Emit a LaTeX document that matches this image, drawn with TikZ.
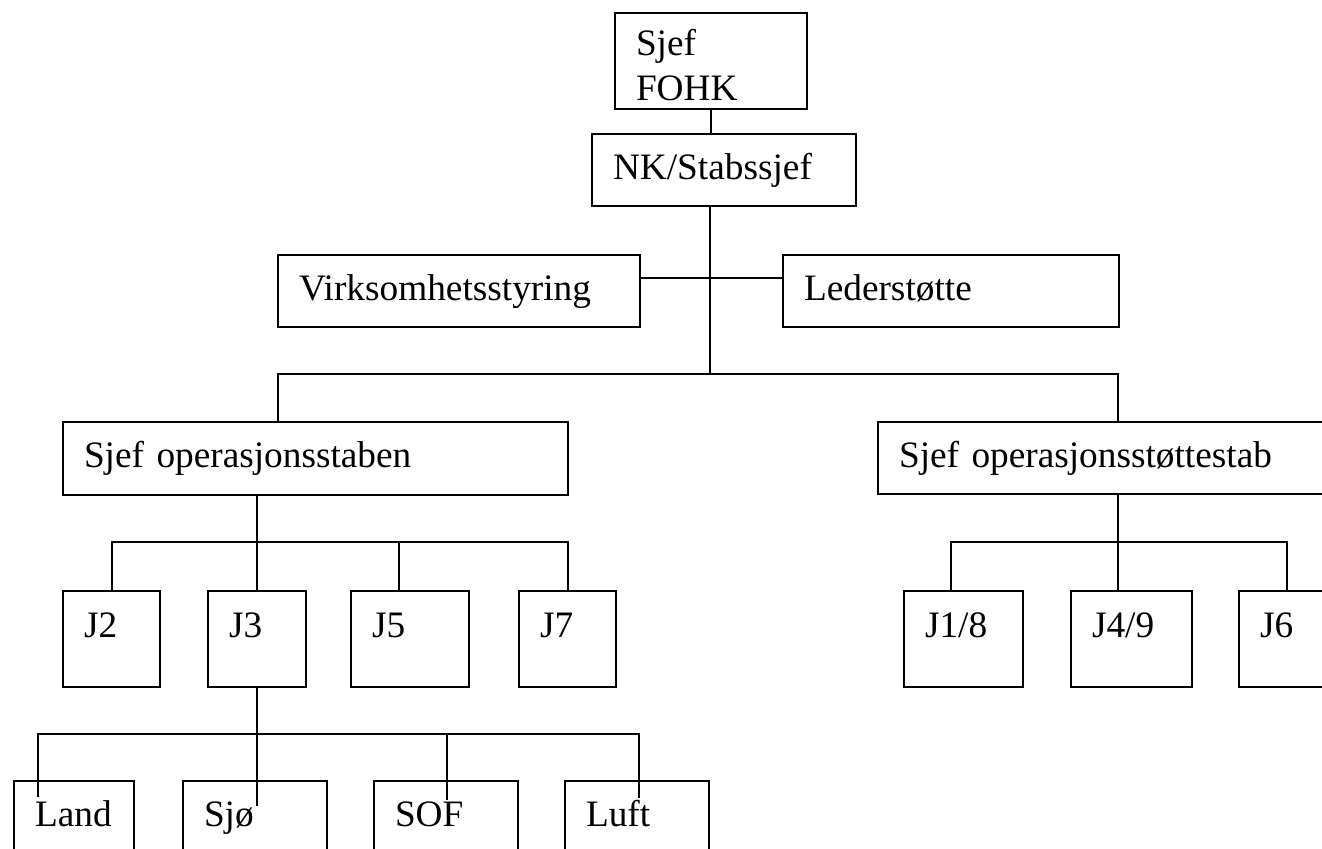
\documentclass[tikz,border=0pt]{standalone}
\usepackage{fontspec}
\setmainfont{Liberation Serif}
\usepackage{tikz}

\begin{document}
\begin{tikzpicture}[x=0.5pt, y=-0.5pt, line width=1pt,
    unit/.style={draw, rectangle, anchor=north west, align=left,
      inner xsep=10.5pt, inner ysep=0pt, text height=23pt,
      font=\fontsize{18.65}{22.4}\selectfont},
    flat/.style={unit, text depth=13pt},
    tall/.style={unit, text depth=25pt}]

        \useasboundingbox (0,0) rectangle (1322,849);

        % top of the staff
        \node[unit, text width=75pt, text height=21.5pt, text depth=26.5pt] (fohk) at (614,12) {Sjef\\FOHK};
        \node[flat, text width=111pt] (nk) at (591,133) {NK/Stabssjef};
        \node[flat, text width=160pt] (virk) at (277,254) {Virksomhetsstyring};
        \node[flat, text width=147pt] (leder) at (782,254) {Lederstøtte};

        \node[flat, text width=231.5pt, text depth=13.5pt] (opsstab) at (62,421) {Sjef operasjonsstaben};
        \node[flat, text width=214pt] (stottestab) at (877,421) {Sjef operasjonsstøttestab};

        % J-cells
        \node[tall, text width=27.5pt] (j2) at (62,590) {J2};
        \node[tall, text width=28pt] (j3) at (207,590) {J3};
        \node[tall, text width=38pt] (j5) at (350,590) {J5};
        \node[tall, text width=27.5pt] (j7) at (518,590) {J7};
        \node[tall, text width=38.5pt] (j18) at (903,590) {J1/8};
        \node[tall, text width=39.5pt] (j49) at (1070,590) {J4/9};
        \node[tall, text width=39pt] (j6) at (1238,590) {J6};

        % components under J3
        \node[tall, text width=39pt, text height=22.5pt] (land) at (13,780) {Land};
        \node[tall, text width=51pt, text height=22.5pt] (sjo) at (182,780) {Sjø};
        \node[tall, text width=51pt, text height=22.5pt] (sof) at (373,780) {SOF};
        \node[tall, text width=51pt, text height=22.5pt] (luft) at (564,780) {Luft};

        \coordinate (hub) at (710,374);
        \coordinate (side) at (710,278);
        \coordinate (lbar) at (278,374);
        \coordinate (rbar) at (1118,374);
        \coordinate (jbar) at (0,542);
        \coordinate (t5) at (399,542);
        \coordinate (t18) at (951,542);
        \coordinate (t6) at (1287,542);
        \coordinate (kbar) at (0,734);
        \coordinate (landend) at (38,797);
        \coordinate (sjoend) at (0,806);
        \coordinate (sofend) at (447,800);
        \coordinate (luftend) at (639,798);

        \draw (fohk.south) -- (fohk.south |- nk.north);
        \draw (nk.south -| hub) -- (hub);
        \draw (virk.east |- side) -- (leder.west |- side);
        \draw (lbar |- opsstab.north) -- (lbar) -- (rbar) -- (rbar |- stottestab.north);

        \draw (opsstab.south -| j3.north) -- (j3.north);
        \draw (j2.north) -- (j2.north |- jbar) -- (j7.north |- jbar) -- (j7.north);
        \draw (t5) -- (t5 |- j5.north);

        \draw (stottestab.south -| rbar) -- (rbar |- j49.north);
        \draw (t18 |- j18.north) -- (t18) -- (t6) -- (t6 |- j6.north);

        \draw (j3.south) -- (j3.south |- sjoend);
        \draw (landend) -- (landend |- kbar) -- (luftend |- kbar) -- (luftend);
        \draw (sofend |- kbar) -- (sofend);

\end{tikzpicture}
\end{document}
